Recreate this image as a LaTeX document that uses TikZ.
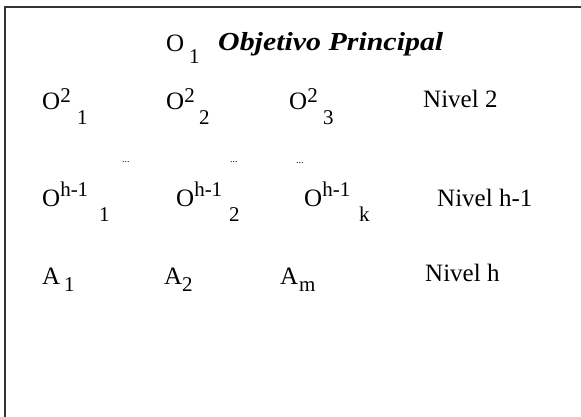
\documentclass[tikz,border=0pt]{standalone}
\usepackage{fontspec}
\setmainfont{Liberation Serif}
\newcommand{\mainfnt}{\fontsize{25}{30}\selectfont}
\newcommand{\scrfnt}{\fontsize{21}{25}\selectfont}
% base letter, superscript, raise, subscript, lower, x of subscript
\newcommand{\lvl}[6]{\rlap{\hspace{#6pt}\raisebox{-#5pt}{\scrfnt #4}}#1\raisebox{#3pt}{\scrfnt #2}}
\tikzset{lab/.style={anchor=base west, inner sep=0pt, font=\mainfnt},
  dots/.style={anchor=base west, inner sep=0pt, font=\fontsize{10}{12}\selectfont},
  frame/.style={line width=1.6pt, black!80}}

\begin{document}
\begin{tikzpicture}[x=1pt, y=-1pt]
\useasboundingbox (0,0) rectangle (581,417);
% frame
\draw[frame] (581,7) -- (5,7) -- (5,417);
% level 1
\node[lab] (o1) at (166,52) {\lvl{O}{}{0}{1}{12}{23}};
\node[lab, font=\fontsize{26}{30}\selectfont\bfseries\itshape] (obj) at (218,51) {\scalebox{1.15}[1]{Objetivo Principal}};
% level 2
\node[lab] (o21) at (42,110) {\lvl{O}{2}{7}{1}{15}{35}};
\node[lab] (o22) at (166,110) {\lvl{O}{2}{7}{2}{15}{33}};
\node[lab] (o23) at (289,110) {\lvl{O}{2}{7}{3}{15}{34}};
\node[lab] (niv2) at (423,108) {Nivel 2};
% dots
\node[dots] (d1) at (122,162) {...};
\node[dots] (d2) at (230,162) {...};
\node[dots] (d3) at (296,164) {...};
% level h-1
\node[lab] (oh1) at (42,206) {\lvl{O}{h-1}{10}{1}{15}{57}};
\node[lab] (oh2) at (176,206) {\lvl{O}{h-1}{10}{2}{15}{53}};
\node[lab] (ohk) at (304,206) {\lvl{O}{h-1}{10}{k}{15}{55}};
\node[lab] (nivh1) at (437,206) {Nivel h-1};
% level h
\node[lab] (a1) at (42,284) {\lvl{A}{}{0}{1}{7}{22}};
\node[lab] (a2) at (164,284) {\lvl{A}{}{0}{2}{7}{18}};
\node[lab] (am) at (280,284) {\lvl{A}{}{0}{m}{7}{19}};
\node[lab] (nivh) at (425,281) {Nivel h};
\end{tikzpicture}
\end{document}
